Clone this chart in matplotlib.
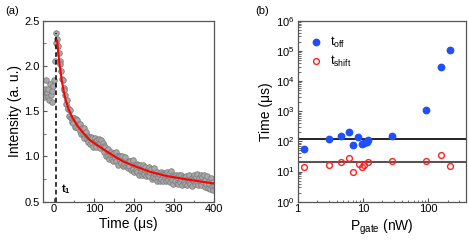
import numpy as np
import matplotlib
matplotlib.use("Agg")
import matplotlib.pyplot as plt
from matplotlib.ticker import MultipleLocator, LogLocator, NullFormatter

plt.rcParams['font.family'] = ['Liberation Sans', 'DejaVu Sans']
plt.rcParams['mathtext.default'] = 'regular'

# ---------------- Panel (a) data ----------------
t_start, t_stop, t_step = -30, 400, 2
intensity = [
    1.68, 1.70, 1.66, 1.72, 1.75, 1.84, 1.70, 1.66, 1.74, 1.62,
    1.80, 1.68, 1.60, 1.72, 1.78, 1.85, 2.05, 2.25, 2.36,
    2.30, 2.22, 2.14, 2.06, 2.02, 1.94, 1.86, 1.84, 1.76, 1.73,
    1.68, 1.58, 1.62, 1.52, 1.53, 1.45, 1.51, 1.42, 1.43, 1.38,
    1.37, 1.43, 1.33, 1.41, 1.32, 1.40, 1.31, 1.36, 1.28, 1.36,
    1.25, 1.31, 1.25, 1.31, 1.20, 1.25, 1.27, 1.19, 1.23, 1.16,
    1.22, 1.14, 1.22, 1.15, 1.20, 1.10, 1.17, 1.20, 1.10, 1.17,
    1.18, 1.14, 1.19, 1.09, 1.15, 1.18, 1.11, 1.15, 1.05, 1.12,
    1.10, 1.00, 1.07, 1.01, 1.08, 0.97, 1.03, 1.05, 0.97, 1.03,
    0.95, 1.04, 0.98, 1.05, 0.95, 1.00, 0.90, 1.00, 0.96, 1.01,
    0.93, 1.00, 0.89, 0.96, 0.92, 0.99, 0.89, 0.93, 0.87, 0.95,
    0.89, 0.95, 0.85, 0.93, 0.86, 0.96, 0.83, 0.90, 0.85, 0.92,
    0.83, 0.90, 0.80, 0.91, 0.84, 0.87, 0.80, 0.90, 0.81, 0.85,
    0.88, 0.78, 0.85, 0.80, 0.88, 0.78, 0.83, 0.86, 0.75, 0.83,
    0.77, 0.87, 0.76, 0.81, 0.73, 0.83, 0.77, 0.81, 0.73, 0.83,
    0.75, 0.81, 0.73, 0.82, 0.76, 0.81, 0.73, 0.83, 0.74, 0.78,
    0.81, 0.72, 0.84, 0.74, 0.79, 0.70, 0.78, 0.73, 0.80, 0.71,
    0.77, 0.70, 0.79, 0.72, 0.75, 0.79, 0.68, 0.77, 0.72, 0.77,
    0.70, 0.78, 0.68, 0.76, 0.72, 0.79, 0.70, 0.75, 0.67, 0.77,
    0.74, 0.80, 0.70, 0.77, 0.72, 0.81, 0.69, 0.76, 0.73, 0.79,
    0.68, 0.77, 0.72, 0.80, 0.66, 0.74, 0.70, 0.78, 0.65, 0.73,
    0.70, 0.64, 0.76, 0.67, 0.72, 0.63, 0.68,
]
time_us = np.arange(t_start, t_stop + 1, t_step)[:len(intensity)]

fit_t = [8, 10, 12, 14, 17, 20, 24, 29, 36, 46, 60, 75, 90, 113, 130,
         151, 175, 205, 240, 280, 320, 360, 400]
fit_y = [2.28, 2.19, 2.10, 2.02, 1.92, 1.83, 1.73, 1.63, 1.53, 1.43, 1.33,
         1.25, 1.18, 1.11, 1.06, 1.00, 0.94, 0.887, 0.83, 0.785, 0.755,
         0.727, 0.70]

t1_pos = 6
t1_top = 2.36

# ---------------- Panel (b) data ----------------
p_gate = [1.26, 3.07, 4.64, 6.09, 7.18, 8.58, 9.88, 10.6, 11.4, 11.9,
          28.3, 92, 155, 213]
t_off = [56, 122, 150, 209, 75.5, 143, 79.6, 86, 95, 108,
         154, 1066, 28300, 107000]
p_gate_shift = [1.25, 3.07, 4.64, 6.09, 7.2, 8.6, 9.88, 10.6, 11.9,
                28.3, 92, 155, 213]
t_shift = [13.7, 16, 20.6, 28, 9.9, 18.2, 14.1, 16.4, 20.1,
           21.7, 22.9, 35, 15.6]
hline_off = 116
hline_shift = 20.1

W, H = 469, 247
fig = plt.figure(figsize=(W / 100, H / 100), dpi=100)

spine_col = '#555555'

def style(ax):
    for s in ax.spines.values():
        s.set_color(spine_col)
        s.set_linewidth(0.9)
    ax.tick_params(which='both', direction='in', top=False, right=False,
                   color=spine_col, labelsize=8, pad=2)
    ax.tick_params(which='major', length=3, width=0.8)
    ax.tick_params(which='minor', length=1.8, width=0.6)

# ---- (a)
ax1 = fig.add_axes([42.7 / W, 1 - 201.7 / H, (214.3 - 42.7) / W, (201.7 - 20.7) / H])
ax1.plot(time_us, intensity, 'o', ms=4.0, mfc='#a9a9a9', mec='#7f7f7f',
         mew=0.6, ls='none', zorder=2)
ax1.plot([t1_pos, t1_pos], [0.5, t1_top], color='black', ls=(0, (3, 2)),
         lw=1.1, zorder=3)
ax1.plot(fit_t, fit_y, color='red', lw=1.5, zorder=4)
ax1.text(17, 0.6, 't$_1$', fontsize=8, color='black', fontweight='bold')
ax1.set_xlim(-28, 400)
ax1.set_ylim(0.5, 2.5)
ax1.xaxis.set_major_locator(MultipleLocator(100))
ax1.xaxis.set_minor_locator(MultipleLocator(50))
ax1.yaxis.set_major_locator(MultipleLocator(0.5))
ax1.yaxis.set_minor_locator(MultipleLocator(0.25))
ax1.set_xlabel('Time (μs)', fontsize=10, labelpad=2)
ax1.set_ylabel('Intensity (a. u.)', fontsize=10, labelpad=2)
style(ax1)
fig.text(5 / W, 1 - 11 / H, '(a)', fontsize=8, va='center')

# ---- (b)
ax2 = fig.add_axes([297.5 / W, 1 - 201.7 / H, (466 - 297.5) / W, (201.7 - 20.7) / H])
ax2.set_xscale('log')
ax2.set_yscale('log')
ax2.axhline(hline_off, color='black', lw=1.2, zorder=1)
ax2.axhline(hline_shift, color='#555555', lw=1.5, zorder=1)
ax2.plot(p_gate, t_off, 'o', ms=4.6, color='#1f4fff', ls='none',
         label='t$_{off}$', zorder=3)
ax2.plot(p_gate_shift, t_shift, 'o', ms=4.2, mfc='none', mec='#ff2020',
         mew=1.0, ls='none', label='t$_{shift}$', zorder=3)
ax2.set_xlim(1, 380)
ax2.set_ylim(1, 1e6)
ax2.yaxis.set_major_locator(LogLocator(base=10, numticks=10))
ax2.yaxis.set_minor_locator(LogLocator(base=10, subs=np.arange(2, 10), numticks=10))
ax2.yaxis.set_minor_formatter(NullFormatter())
ax2.xaxis.set_major_locator(LogLocator(base=10, numticks=10))
ax2.xaxis.set_minor_locator(LogLocator(base=10, subs=np.arange(2, 10), numticks=10))
ax2.xaxis.set_minor_formatter(NullFormatter())
ax2.set_xticks([1, 10, 100])
ax2.set_xticklabels(['1', '10', '100'])
ax2.set_xlabel('P$_{gate}$ (nW)', fontsize=10, labelpad=2)
ax2.set_ylabel('Time (μs)', fontsize=10, labelpad=2)
style(ax2)
leg = ax2.legend(loc='upper left', frameon=False, fontsize=9,
                 handletextpad=0.3, borderaxespad=0.3, labelspacing=0.35,
                 handlelength=1.6, bbox_to_anchor=(0.0, 0.97))
fig.text(255 / W, 1 - 11 / H, '(b)', fontsize=8, va='center')

fig.savefig('out.png', dpi=100)
